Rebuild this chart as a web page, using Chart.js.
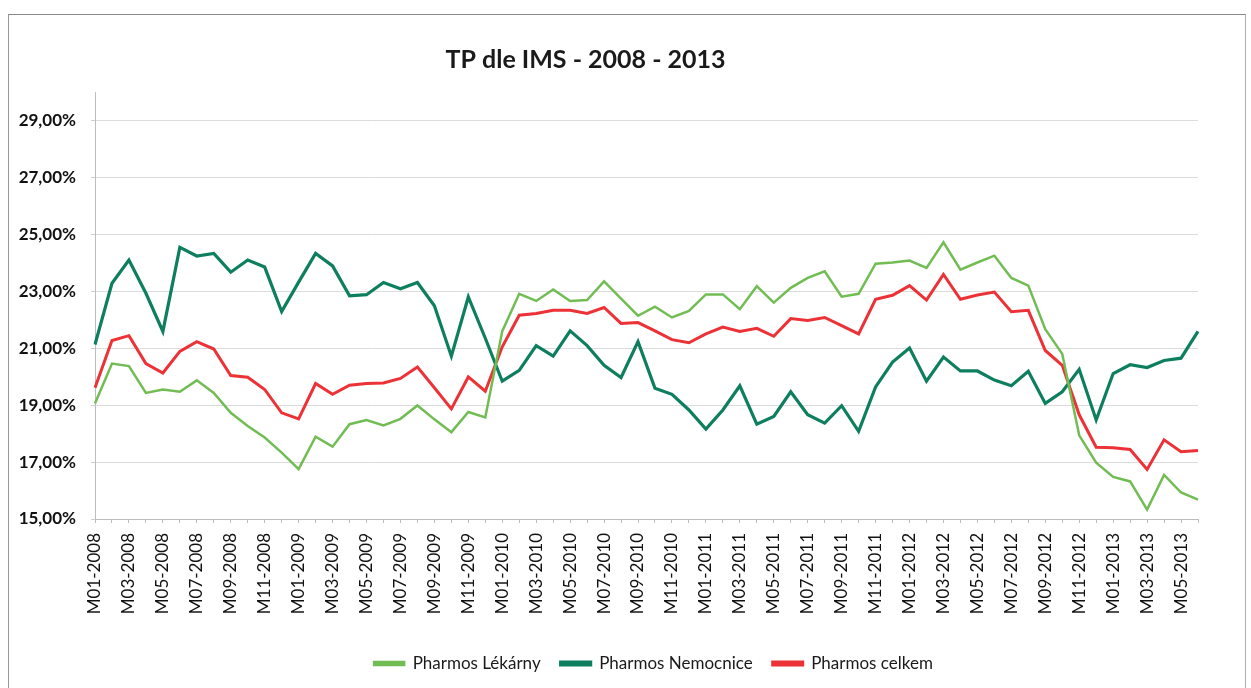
<!DOCTYPE html>
<html>
<head>
<meta charset="utf-8">
<script src="https://cdn.jsdelivr.net/npm/chart.js@4/dist/chart.umd.min.js"></script>
<style>
  html, body { margin: 0; padding: 0; background: #fff; overflow: hidden; }
  #frame {
    position: absolute; left: 8px; top: 14px; width: 1236px; height: 680px;
    border-top: 1px solid #8a8a8a; border-left: 1px solid #9a9a9a; border-right: 1px solid #b0b0b0;
  }
  #frame canvas { display: block; }
</style>
</head>
<body>
<div id="frame"><canvas id="tpChart" width="1236" height="673"></canvas></div>
<script>
// months M01-2008 .. M06-2013
const months = [];
for (let y = 2008; y <= 2013; y++) {
  for (let m = 1; m <= 12; m++) {
    if (y === 2013 && m > 6) break;
    months.push('M' + String(m).padStart(2, '0') + '-' + y);
  }
}

const lekarny = [19.06, 20.46, 20.37, 19.43, 19.55, 19.47, 19.87, 19.43, 18.73, 18.27,
  17.86, 17.33, 16.75, 17.89, 17.54, 18.33, 18.48, 18.29, 18.52, 18.99,
  18.50, 18.05, 18.76, 18.57, 21.60, 22.91, 22.66, 23.06, 22.66, 22.69,
  23.35, 22.74, 22.14, 22.46, 22.08, 22.31, 22.89, 22.89, 22.37, 23.18,
  22.60, 23.12, 23.47, 23.70, 22.81, 22.91, 23.97, 24.01, 24.08, 23.82,
  24.72, 23.76, 24.01, 24.25, 23.47, 23.20, 21.67, 20.80, 17.94, 16.98,
  16.48, 16.32, 15.33, 16.55, 15.93, 15.68];

const nemocnice = [21.13, 23.28, 24.10, 22.93, 21.59, 24.54, 24.24, 24.33, 23.67, 24.10,
  23.85, 22.29, 23.32, 24.33, 23.89, 22.84, 22.88, 23.31, 23.09, 23.31,
  22.49, 20.72, 22.80, 21.35, 19.84, 20.22, 21.09, 20.72, 21.61, 21.09,
  20.40, 19.97, 21.23, 19.59, 19.38, 18.83, 18.16, 18.83, 19.68, 18.33,
  18.60, 19.47, 18.66, 18.37, 18.98, 18.08, 19.64, 20.51, 21.01, 19.84,
  20.69, 20.20, 20.20, 19.88, 19.68, 20.19, 19.06, 19.47, 20.26, 18.48,
  20.11, 20.42, 20.32, 20.57, 20.65, 21.59];

const celkem = [19.61, 21.27, 21.44, 20.46, 20.13, 20.89, 21.23, 20.97, 20.04, 19.98,
  19.55, 18.73, 18.52, 19.76, 19.38, 19.70, 19.76, 19.78, 19.94, 20.34,
  19.61, 18.87, 19.99, 19.49, 21.05, 22.16, 22.22, 22.33, 22.33, 22.22,
  22.43, 21.87, 21.90, 21.61, 21.30, 21.19, 21.50, 21.74, 21.59, 21.70,
  21.42, 22.04, 21.97, 22.08, 21.79, 21.50, 22.72, 22.86, 23.20, 22.69,
  23.59, 22.72, 22.87, 22.97, 22.28, 22.33, 20.92, 20.40, 18.66, 17.52,
  17.50, 17.44, 16.74, 17.78, 17.36, 17.41];

const yTicks = [15, 17, 19, 21, 23, 25, 27, 29];
const yMin = 15, yMax = 30;

// nudge title / legend sideways to sit where the original has them
const shiftBoxes = {
  id: 'shiftBoxes',
  afterLayout(chart) {
    const t = chart.titleBlock, l = chart.legend;
    if (t) { t.left -= 18; t.right -= 18; }
    if (l) { l.left += 50; l.right += 50; }
  }
};

const ctx = document.getElementById('tpChart').getContext('2d');
const tpChart = new Chart(ctx, {
  type: 'line',
  data: {
    labels: months,
    datasets: [
      { label: 'Pharmos Lékárny', data: lekarny, borderColor: '#72bd53', backgroundColor: '#72bd53', borderWidth: 2.5 },
      { label: 'Pharmos Nemocnice', data: nemocnice, borderColor: '#0e7f5e', backgroundColor: '#0e7f5e', borderWidth: 3.2 },
      { label: 'Pharmos celkem', data: celkem, borderColor: '#ec3237', backgroundColor: '#ec3237', borderWidth: 3 }
    ]
  },
  options: {
    responsive: false,
    animation: false,
    elements: { point: { radius: 0 }, line: { tension: 0 } },
    layout: { padding: { left: 0, right: 47, top: 0, bottom: 6 } },
    plugins: {
      title: {
        display: true,
        text: 'TP dle IMS - 2008 - 2013',
        color: '#1a1a1a',
        font: { family: 'Lato', size: 25, weight: 'bold' },
        padding: { top: 30, bottom: 17 }
      },
      legend: {
        position: 'bottom',
        labels: {
          color: '#1a1a1a',
          font: { family: 'Lato', size: 17 },
          boxWidth: 30,
          boxHeight: 3,
          padding: 20
        }
      },
      tooltip: { enabled: false }
    },
    scales: {
      x: {
        offset: false,
        border: { color: '#bdbdbd' },
        grid: { display: true, drawOnChartArea: false, drawTicks: true, tickLength: 4, tickColor: '#bdbdbd' },
        ticks: {
          autoSkip: false,
          maxRotation: 90,
          minRotation: 90,
          padding: 10,
          color: '#111',
          font: { family: 'Lato', size: 17 },
          callback: function (val, i) { return i % 2 === 0 ? months[i] : ''; }
        },
        afterFit: function (scale) { scale.height = 116; }
      },
      y: {
        min: yMin,
        max: yMax,
        border: { color: '#bdbdbd' },
        grid: { color: '#dcdcdc', tickLength: 4, tickColor: '#cfcfcf' },
        ticks: {
          padding: 15,
          color: '#111',
          font: { family: 'Lato', size: 17, weight: 'bold' },
          callback: function (v) { return v.toFixed(2).replace('.', ',') + '%'; }
        },
        afterBuildTicks: function (scale) {
          scale.ticks = yTicks.map(function (v) { return { value: v }; });
        },
        afterFit: function (scale) { scale.width = 86; }
      }
    }
  },
  plugins: [shiftBoxes]
});
</script>
</body>
</html>
